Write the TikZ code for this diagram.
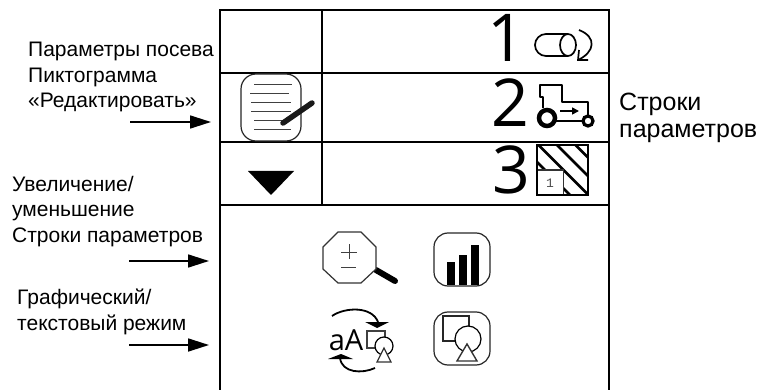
\documentclass[tikz,border=0pt]{standalone}
\usepackage{fontspec}
\setmainfont{Liberation Sans}
\newfontfamily\digitfont{Open Sans}
\newfontfamily\monofont{Liberation Mono}
\usetikzlibrary{arrows.meta}
\tikzset{
  grid line/.style={line width=2pt,black},
  label text/.style={font=\fontsize{21}{24}\selectfont,anchor=base west,inner sep=0pt},
  side text/.style={font=\fontsize{25}{28}\selectfont,anchor=base west,inner sep=0pt},
  pointer/.style={line width=1.7pt,-{Triangle[length=21pt,width=13pt]}},
  big digit/.style={font=\digitfont\fontsize{66}{66}\selectfont,inner sep=0pt,anchor=base},
  icon/.style={line width=1.2pt,black},
  thin rule/.style={line width=1pt,black!75},
  round icon/.style={line width=1.2pt,black!85,rounded corners=14pt},
}
\begin{document}
\begin{tikzpicture}[x=1pt,y=-1pt]
\useasboundingbox (0,0) rectangle (760,390);
% frame
\draw[grid line] (220,390) -- (220,10) -- (609,10) -- (609,390);
\draw[grid line] (220,73) -- (609,73);
\draw[grid line,line width=1.6pt] (220,142) -- (609,142);
\draw[grid line,line width=1.6pt] (220,205) -- (609,205);
\draw[grid line] (322,10) -- (322,205);
% digits
\node[big digit] (d1) at (506,62) {1};
\node[big digit] (d2) at (510,127) {2};
\node[big digit] (d3) at (511,194) {3};
% edit icon
\draw[round icon,rounded corners=15pt,fill=white] (241,74) rectangle (301,141);
\foreach \y/\a/\b in {85/254/292,94/250/289,103/251/291,112/251/291,121/254/285,130/254/291}
  \draw[thin rule] (\a,\y) -- (\b,\y);
\draw[line width=5.5pt,line cap=round,black!90] (283,123) -- (312,103);
% down triangle
\fill[black] (248,171) -- (294,171) -- (271,195) -- cycle;
% roll icon
\draw[line width=1.7pt] (568,34) -- (546,34) arc[start angle=270,end angle=90,radius=11] -- (568,56);
\draw[line width=1.7pt] (568,45) ellipse[x radius=8,y radius=11];
\draw[line width=1.7pt] (579,30) .. controls (597,37) and (595,52) .. (578,60);
\draw[line width=1.7pt] (579,50) -- (578,60) -- (588,60);
% tractor
\draw[line width=1.9pt,line join=round] (543,108) -- (543,97) -- (540,97) -- (540,85) -- (562,85) -- (562,102) -- (588,102) -- (588,115);
\draw[line width=1.9pt] (555,121) -- (583,121);
\draw[line width=4.5pt,fill=white] (547,118) circle[radius=8];
\draw[line width=3.2pt,fill=white] (588,121) circle[radius=5];
\draw[line width=1.6pt,-{Triangle[length=7pt,width=7pt]}] (560,111) -- (579,111);
% field
\begin{scope}
\clip (537,145) rectangle (588,195);
\foreach \c in {375,393.5,412,430.5,449}
  \draw[line width=2.6pt] ({\c+140},140) -- ({\c+200},200);
\end{scope}
\fill[white] (537,170) rectangle (563.5,195);
\draw[line width=1.1pt,black!80] (537,170) -| (563.5,195);
\draw[line width=1.8pt] (537,145) rectangle (588,195);
\node[font=\monofont\fontsize{13}{13}\selectfont,text=black!70,inner sep=0pt] (fieldno) at (550,183) {1};
% magnifier
\draw[line width=6pt,line cap=round] (376,270) -- (395,281);
\draw[icon,black!80,fill=white] (338,232) -- (361,232) -- (376,247) -- (376,269) -- (361,283) -- (338,283) -- (323,269) -- (323,247) -- cycle;
\draw[thin rule] (341,252) -- (357,252);
\draw[thin rule] (349,244) -- (349,259);
\draw[thin rule] (341,267) -- (356,267);
% chart
\draw[round icon] (434,233) rectangle (490,286);
\fill[black] (447,262) rectangle (455,285);
\fill[black] (459,255) rectangle (467,285);
\fill[black] (471,245) rectangle (479,285);
% shapes
\draw[round icon] (434,312) rectangle (490,365);
\draw[icon,black!85] (443,316) rectangle (469,341);
\draw[icon,fill=white] (468,339) circle[radius=13];
\draw[icon,black!80,line width=1.4pt,fill=white] (467,344) -- (477,361) -- (457,361) -- cycle;
% aA icon
\node[font=\digitfont\fontsize{29}{29}\selectfont,inner sep=0pt,anchor=base] (aA) at (346,350) {aA};
\draw[icon,black!75] (367,331) rectangle (385,348);
\draw[icon,fill=white] (384,346) circle[radius=9];
\draw[icon,black!80,fill=white] (384,348) -- (391,362) -- (377,362) -- cycle;
\draw[line width=1.8pt] (332,316) .. controls (345,307) and (372,306) .. (378,322);
\fill[black] (365,322) -- (389,322) -- (377,328) -- cycle;
\draw[line width=1.8pt] (375,368) .. controls (362,374) and (342,373) .. (340,358);
\fill[black] (328,359) -- (353,359) -- (341,354) -- cycle;
% left labels
\node[label text] (l1) at (28,57) {Параметры посева};
\node[label text] (l2) at (28,83) {Пиктограмма};
\node[label text] (l3) at (28,108) {«Редактировать»};
\node[label text] (l4) at (12,192) {Увеличение/};
\node[label text] (l5) at (12,217) {уменьшение};
\node[label text] (l6) at (12,242) {Строки параметров};
\node[label text] (l7) at (17,304) {Графический/};
\node[label text] (l8) at (17,330) {текстовый режим};
% right labels
\node[side text] (r1) at (619,111) {Строки};
\node[side text] (r2) at (619,138) {параметров};
% pointers
\coordinate (a1s) at (130,122); \coordinate (a1e) at (211,122);
\coordinate (a2s) at (129,261); \coordinate (a2e) at (209,261);
\coordinate (a3s) at (129,345); \coordinate (a3e) at (209,345);
\draw[pointer] (a1s) -- (a1e);
\draw[pointer] (a2s) -- (a2e);
\draw[pointer] (a3s) -- (a3e);
\end{tikzpicture}
\end{document}
